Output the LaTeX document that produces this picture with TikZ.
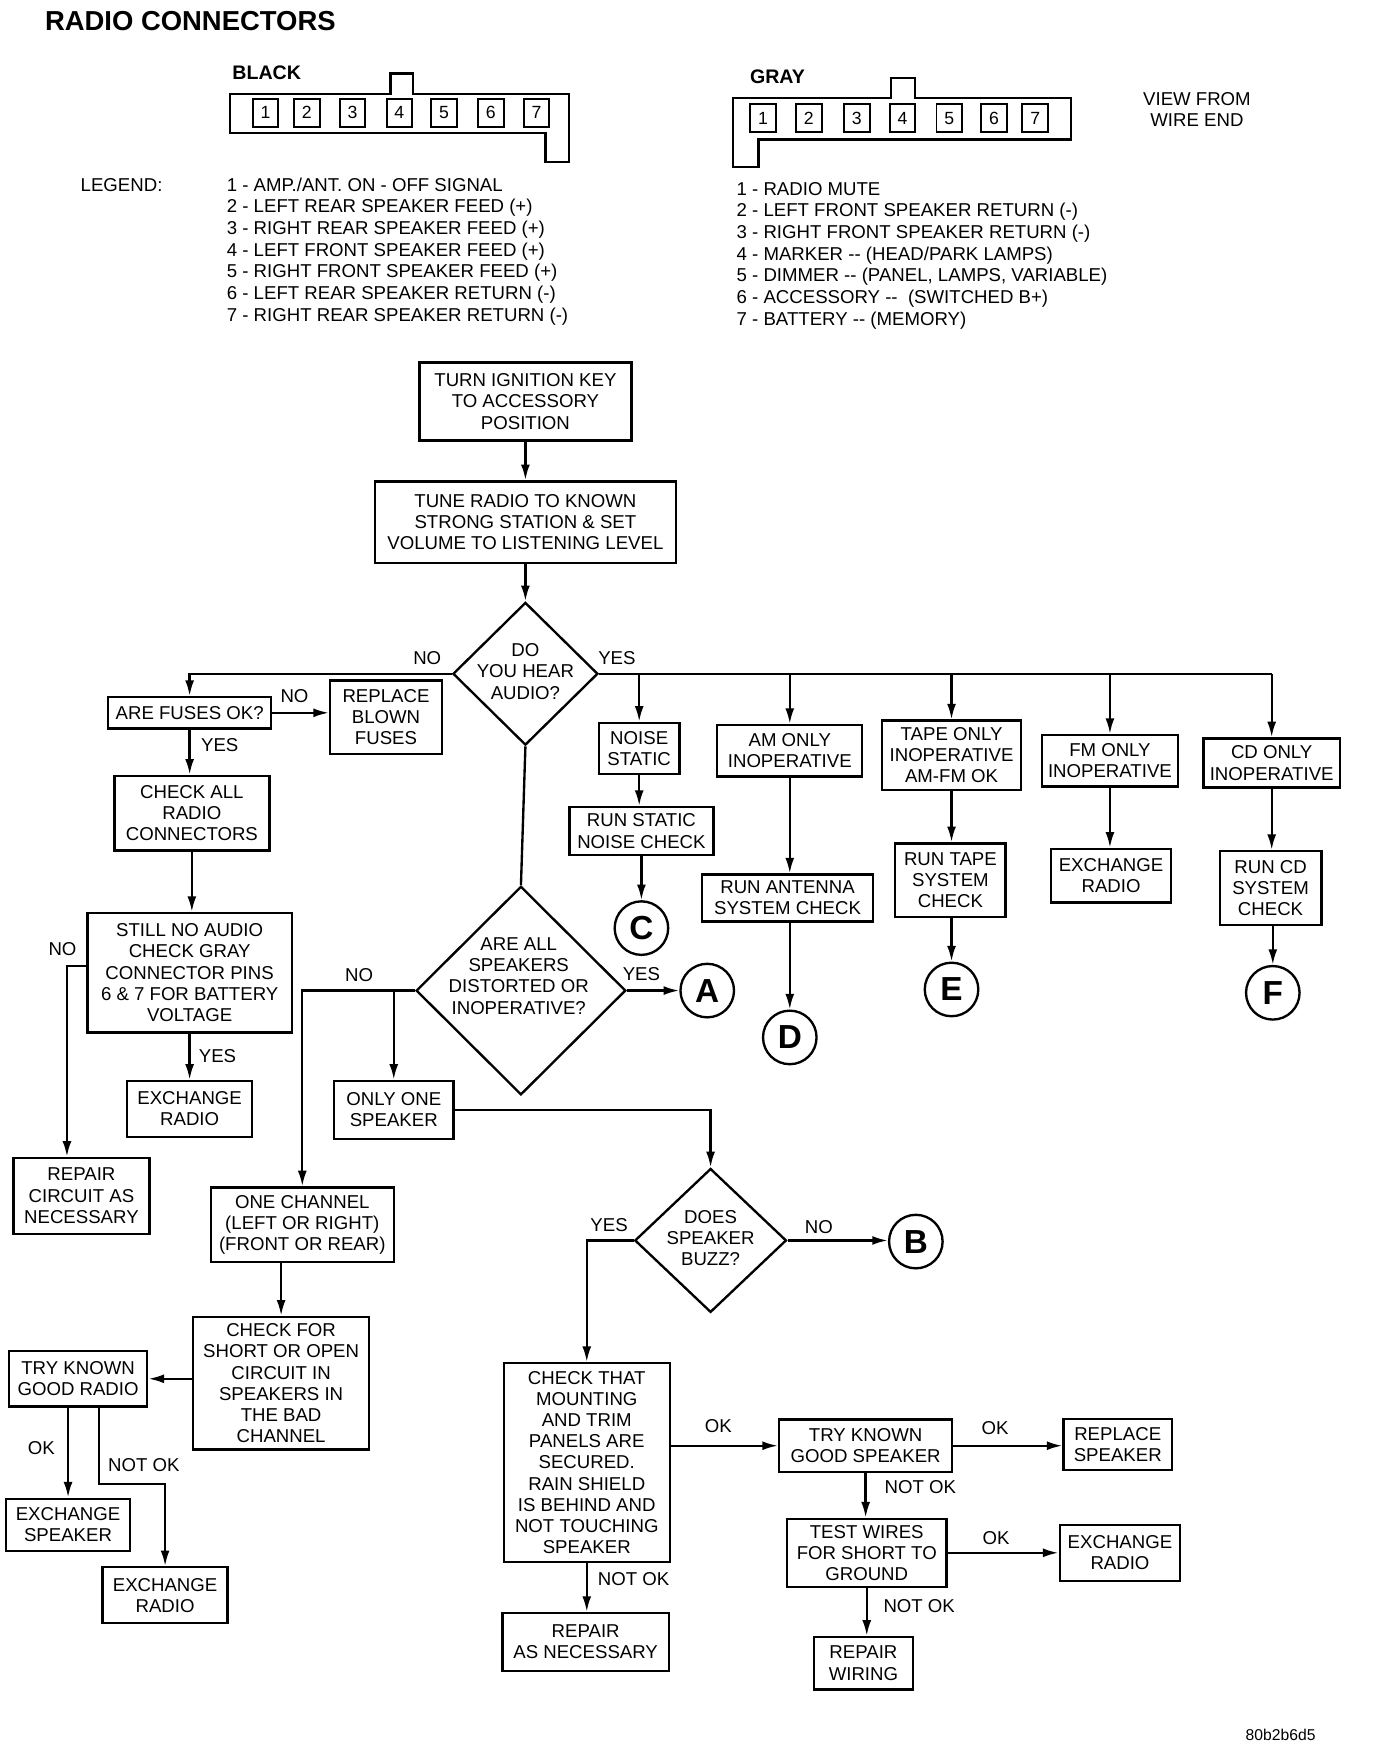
\documentclass[tikz,border=0pt]{standalone}
\usepackage{fontspec}
\setmainfont{Liberation Sans}
\usepackage{tikz}
\usetikzlibrary{arrows.meta, shapes.geometric}
\tikzset{
  box/.style={draw, line width=1.2pt, align=center, inner sep=1.5pt, font=\fontsize{9.5}{10.8}\selectfont},
  ask/.style={draw, diamond, line width=1.2pt, inner sep=0pt},
  goto/.style={draw, circle, line width=1.2pt, minimum size=0.96cm, inner sep=0pt, font=\fontsize{17}{17}\selectfont\bfseries},
  lbl/.style={inner sep=0pt, font=\fontsize{9.5}{10.8}\selectfont},
  pinbox/.style={draw, line width=1pt, minimum width=0.46cm, minimum height=0.5cm, inner sep=0pt, font=\fontsize{9}{9}\selectfont},
  flow/.style={line width=1.2pt, -{Latex[length=2.8mm,width=1.6mm]}},
  wire/.style={line width=1.2pt}
}

\begin{document}
\begin{tikzpicture}[x=0.02cm, y=-0.02cm]
\useasboundingbox (0,0) rectangle (1234,1567);

% connectors
\node[lbl, anchor=west, font=\fontsize{14}{14}\selectfont\bfseries] (title) at (40,19) {RADIO CONNECTORS};
\node[lbl, anchor=west, font=\fontsize{10}{10}\selectfont\bfseries] (black) at (208,65) {BLACK};
\node[lbl, anchor=west, font=\fontsize{10}{10}\selectfont\bfseries] (gray) at (672,69) {GRAY};
\draw[wire] (206,84) -- (350,84) -- (350,66) -- (370,66) -- (370,84) -- (510,84) -- (510,145) -- (489,145) -- (489,119) -- (206,119) -- cycle;
\draw[wire] (657,88) -- (799,88) -- (799,70) -- (820,70) -- (820,88) -- (960,88) -- (960,125) -- (680,125) -- (680,150) -- (657,150) -- cycle;
\foreach \n/\x in {1/238,2/275,3/316,4/358,5/398,6/440,7/481}
  \node[pinbox] (b\n) at (\x,101) {\n};
\foreach \n/\x in {1/684,2/725,3/768,4/809,5/851,6/891,7/928}
  \node[pinbox] (g\n) at (\x,106) {\n};
\node[lbl, align=center] (view) at (1073,98) {VIEW FROM\\WIRE END};

% legend
\node[lbl, anchor=west] (legend) at (72,166) {LEGEND:};
\node[lbl, anchor=north west, align=left, font=\fontsize{9.5}{11.06}\selectfont] (blackkey) at (203,159)
  {1 - AMP./ANT. ON - OFF SIGNAL\\
   2 - LEFT REAR SPEAKER FEED (+)\\
   3 - RIGHT REAR SPEAKER FEED (+)\\
   4 - LEFT FRONT SPEAKER FEED (+)\\
   5 - RIGHT FRONT SPEAKER FEED (+)\\
   6 - LEFT REAR SPEAKER RETURN (-)\\
   7 - RIGHT REAR SPEAKER RETURN (-)};
\node[lbl, anchor=north west, align=left, font=\fontsize{9.5}{11.06}\selectfont] (graykey) at (660,163)
  {1 - RADIO MUTE\\
   2 - LEFT FRONT SPEAKER RETURN (-)\\
   3 - RIGHT FRONT SPEAKER RETURN (-)\\
   4 - MARKER -{}- (HEAD/PARK LAMPS)\\
   5 - DIMMER -{}- (PANEL, LAMPS, VARIABLE)\\
   6 - ACCESSORY -{}-~~(SWITCHED B+)\\
   7 - BATTERY -{}- (MEMORY)};

% flow chart
\node[box, minimum width=3.8cm, minimum height=1.4cm] (turn) at (471,360) {TURN IGNITION KEY\\TO ACCESSORY\\POSITION};
\node[box, minimum width=5.4cm, minimum height=1.46cm] (tune) at (471,468) {TUNE RADIO TO KNOWN\\STRONG STATION \& SET\\VOLUME TO LISTENING LEVEL};
\node[ask, minimum width=2.6cm, minimum height=2.56cm] (hear) at (471,604) {};
\node[lbl, align=center] (heartext) at (471,602) {DO\\YOU HEAR\\AUDIO?};

\node[box, minimum width=2.92cm, minimum height=0.56cm, inner xsep=1pt] (fuses) at (170,639) {ARE FUSES OK?};
\node[box, minimum width=2.0cm, minimum height=1.32cm] (replace) at (346,643) {REPLACE\\BLOWN\\FUSES};
\node[box, minimum width=2.78cm, minimum height=1.34cm] (checkall) at (172,729) {CHECK ALL\\RADIO\\CONNECTORS};
\node[box, minimum width=3.66cm, minimum height=2.14cm] (still) at (170,872) {STILL NO AUDIO\\CHECK GRAY\\CONNECTOR PINS\\6 \& 7 FOR BATTERY\\VOLTAGE};
\node[box, minimum width=2.24cm, minimum height=1.0cm] (exradioA) at (170,994) {EXCHANGE\\RADIO};
\node[box, minimum width=2.44cm, minimum height=1.36cm] (repcirc) at (73,1072) {REPAIR\\CIRCUIT AS\\NECESSARY};

\node[box, minimum width=1.44cm, minimum height=0.92cm] (noise) at (573,671) {NOISE\\STATIC};
\node[box, minimum width=2.58cm, minimum height=0.86cm] (runstatic) at (575,745) {RUN STATIC\\NOISE CHECK};
\node[box, minimum width=2.6cm, minimum height=0.92cm] (amonly) at (708,673) {AM ONLY\\INOPERATIVE};
\node[box, minimum width=3.06cm, minimum height=0.84cm] (antenna) at (706,805) {RUN ANTENNA\\SYSTEM CHECK};
\node[box, minimum width=2.5cm, minimum height=1.24cm] (tape) at (853,677) {TAPE ONLY\\INOPERATIVE\\AM-FM OK};
\node[box, minimum width=1.98cm, minimum height=1.32cm] (runtape) at (852,789) {RUN TAPE\\SYSTEM\\CHECK};
\node[box, minimum width=2.44cm, minimum height=0.92cm] (fmonly) at (995,682) {FM ONLY\\INOPERATIVE};
\node[box, minimum width=2.16cm, minimum height=0.96cm] (exradioB) at (996,785) {EXCHANGE\\RADIO};
\node[box, minimum width=2.44cm, minimum height=0.88cm] (cdonly) at (1140,684) {CD ONLY\\INOPERATIVE};
\node[box, minimum width=1.82cm, minimum height=1.32cm] (runcd) at (1139,796) {RUN CD\\SYSTEM\\CHECK};

\node[goto] (C) at (575,832) {C};
\node[goto] (D) at (708,930) {D};
\node[goto] (E) at (853,887) {E};
\node[goto] (F) at (1141,890) {F};

\node[ask, minimum width=3.76cm, minimum height=3.74cm] (spk) at (467,888) {};
\node[lbl, align=center] (spktext) at (465,875) {ARE ALL\\SPEAKERS\\DISTORTED OR\\INOPERATIVE?};
\node[goto] (A) at (634,888) {A};
\node[box, minimum width=2.14cm, minimum height=1.04cm] (onlyone) at (353,995) {ONLY ONE\\SPEAKER};
\node[box, minimum width=3.28cm, minimum height=1.34cm] (onechan) at (271,1098) {ONE CHANNEL\\(LEFT OR RIGHT)\\(FRONT OR REAR)};
\node[box, minimum width=3.16cm, minimum height=2.38cm] (chkshort) at (252,1240) {CHECK FOR\\SHORT OR OPEN\\CIRCUIT IN\\SPEAKERS IN\\THE BAD\\CHANNEL};
\node[box, minimum width=2.48cm, minimum height=1.0cm] (tryradio) at (70,1236) {TRY KNOWN\\GOOD RADIO};
\node[box, minimum width=2.22cm, minimum height=0.94cm] (exspk) at (61,1367) {EXCHANGE\\SPEAKER};
\node[box, minimum width=2.24cm, minimum height=1.0cm] (exradioC) at (148,1430) {EXCHANGE\\RADIO};

\node[ask, minimum width=2.72cm, minimum height=2.58cm] (buzz) at (637,1112) {};
\node[lbl, align=center] (buzztext) at (637,1110) {DOES\\SPEAKER\\BUZZ?};
\node[goto] (B) at (821,1113) {B};
\node[box, minimum width=2.98cm, minimum height=3.56cm] (mount) at (526,1311) {CHECK THAT\\MOUNTING\\AND TRIM\\PANELS ARE\\SECURED.\\RAIN SHIELD\\IS BEHIND AND\\NOT TOUCHING\\SPEAKER};
\node[box, minimum width=2.98cm, minimum height=1.04cm] (repnec) at (525,1472) {REPAIR\\AS NECESSARY};
\node[box, minimum width=3.1cm, minimum height=0.94cm] (trygood) at (776,1296) {TRY KNOWN\\GOOD SPEAKER};
\node[box, minimum width=1.94cm, minimum height=0.92cm] (replspk) at (1002,1295) {REPLACE\\SPEAKER};
\node[box, minimum width=2.86cm, minimum height=1.22cm] (testwires) at (777,1392) {TEST WIRES\\FOR SHORT TO\\GROUND};
\node[box, minimum width=2.16cm, minimum height=1.0cm] (exradioD) at (1004,1392) {EXCHANGE\\RADIO};
\node[box, minimum width=1.78cm, minimum height=0.94cm] (repwire) at (774,1491) {REPAIR\\WIRING};

% branch labels
\node[lbl] (l1) at (383,590) {NO};
\node[lbl] (l2) at (553,590) {YES};
\node[lbl] (l3) at (264,624) {NO};
\node[lbl] (l4) at (197,668) {YES};
\node[lbl] (l5) at (56,851) {NO};
\node[lbl] (l6) at (195,947) {YES};
\node[lbl] (l7) at (322,874) {NO};
\node[lbl] (l8) at (575,873) {YES};
\node[lbl] (l9) at (546,1098) {YES};
\node[lbl] (l10) at (734,1100) {NO};
\node[lbl] (l11) at (37,1298) {OK};
\node[lbl] (l12) at (129,1313) {NOT OK};
\node[lbl] (l13) at (644,1278) {OK};
\node[lbl] (l14) at (892,1280) {OK};
\node[lbl] (l15) at (825,1333) {NOT OK};
\node[lbl] (l16) at (893,1379) {OK};
\node[lbl] (l17) at (568,1416) {NOT OK};
\node[lbl] (l18) at (824,1440) {NOT OK};
\node[lbl, font=\fontsize{8}{8}\selectfont] (code) at (1148,1555) {80b2b6d5};

\draw[flow] (turn.south) -- (tune.north);
\draw[flow] (tune.south) -- (hear.north);
\draw[flow] (hear.west) -| (fuses.north);
\draw[wire] (hear.east) -- (hear.east -| cdonly.north);
\foreach \b in {noise, amonly, tape, fmonly, cdonly}
  \draw[flow] (hear.east -| \b.north) -- (\b.north);
\draw[flow] (noise.south) -- (noise.south |- runstatic.north);
\draw[flow] (runstatic.south) -- (C);
\draw[flow] (amonly.south) -- (amonly.south |- antenna.north);
\draw[flow] (D.north |- antenna.south) -- (D);
\draw[flow] (tape.south) -- (tape.south |- runtape.north);
\draw[flow] (E.north |- runtape.south) -- (E);
\draw[flow] (fmonly.south) -- (fmonly.south |- exradioB.north);
\draw[flow] (cdonly.south) -- (cdonly.south |- runcd.north);
\draw[flow] (F.north |- runcd.south) -- (F);

\draw[flow] (fuses.east) -- (fuses.east -| replace.west);
\draw[flow] (fuses.south) -- (fuses.south |- checkall.north);
\draw[flow] (checkall.south) -- (checkall.south |- still.north);
\draw[flow] (exradioA.north |- still.south) -- (exradioA.north);
\draw[flow] (still.west |- 0,866) -| ([xshift=-0.26cm]repcirc.north);

\draw[wire] (hear.south) -- (spk.north);
\draw[flow] (spk.east) -- (A);
\draw[flow] (spk.west) -| (onechan.north);
\draw[flow] (spk.west -| onlyone.north) -- (onlyone.north);
\draw[flow] (onlyone.east) -| (buzz.north);
\draw[flow] (buzz.east) -- (buzz.east -| B.west);
\draw[flow] (buzz.west) -| (mount.north);
\draw[flow] (chkshort.north |- onechan.south) -- (chkshort.north);
\draw[flow] (chkshort.west |- tryradio.east) -- (tryradio.east);
\draw[flow] (exspk.north |- tryradio.south) -- (exspk.north);
\draw[flow] ([xshift=0.38cm]tryradio.south) -- ++(0,68) -| (exradioC.north);

\draw[flow] (mount.south) -- (mount.south |- repnec.north);
\draw[flow] (mount.east |- trygood.west) -- (trygood.west);
\draw[flow] (trygood.east) -- (trygood.east -| replspk.west);
\draw[flow] (trygood.south) -- (trygood.south |- testwires.north);
\draw[flow] (testwires.east) -- (testwires.east -| exradioD.west);
\draw[flow] (testwires.south) -- (testwires.south |- repwire.north);
\end{tikzpicture}
\end{document}
